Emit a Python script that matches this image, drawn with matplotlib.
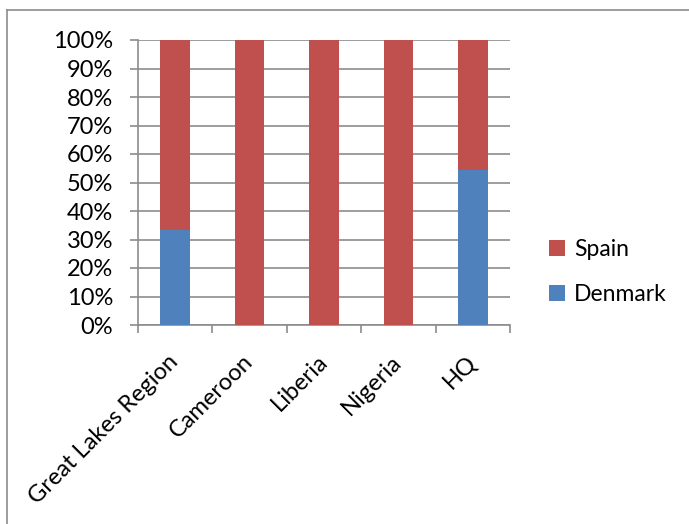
import matplotlib.pyplot as plt
from matplotlib.lines import Line2D
from matplotlib.ticker import MultipleLocator, PercentFormatter

categories = ["Great Lakes Region", "Cameroon", "Liberia", "Nigeria", "HQ"]
denmark = [33.3, 0, 0, 0, 54.5]
spain = [66.7, 100, 100, 100, 45.5]

blue = "#4F81BD"
red = "#C0504D"
grey = "#8C8C8C"

plt.rcParams["font.family"] = ["Lato", "DejaVu Sans"]

W, H = 689, 524
fig = plt.figure(figsize=(W / 100, H / 100), dpi=100)
ax = fig.add_axes([138 / W, 1 - 325 / H, (510 - 138) / W, (325 - 40) / H])

x = range(len(categories))
ax.bar(x, denmark, width=0.4, color=blue, label="Denmark", zorder=3)
ax.bar(x, spain, width=0.4, bottom=denmark, color=red, label="Spain", zorder=3)

ax.set_xlim(-0.5, len(categories) - 0.5)
ax.set_ylim(0, 100)
ax.yaxis.set_major_locator(MultipleLocator(10))
ax.yaxis.set_major_formatter(PercentFormatter(decimals=0))
ax.grid(axis="y", color=grey, linewidth=1.2, zorder=0)

ax.set_xticks(list(x))
ax.set_xticklabels(categories, rotation=45, ha="right", va="center",
                   rotation_mode="anchor", fontsize=17)
ax.tick_params(axis="x", length=0, pad=24)
ax.set_xticks([i + 0.5 for i in range(-1, len(categories))], minor=True)
ax.tick_params(axis="x", which="minor", length=6, color=grey, width=1.2)
ax.tick_params(axis="y", length=6, color=grey, width=1.2, labelsize=17, pad=12)

for s in ["top", "right"]:
    ax.spines[s].set_visible(False)
for s in ["left", "bottom"]:
    ax.spines[s].set_color(grey)
    ax.spines[s].set_linewidth(1.2)

handles, labels = ax.get_legend_handles_labels()
fig.legend(handles[::-1], labels[::-1], loc="center left",
           bbox_to_anchor=(528 / W, 1 - 272 / H), frameon=False,
           fontsize=16.5, handlelength=0.7, handleheight=0.7,
           labelspacing=1.05, handletextpad=0.4)

fig.add_artist(Line2D([7 / W, 7 / W], [0, 1 - 10 / H], color=grey, linewidth=1.2))
fig.add_artist(Line2D([7 / W, 1], [1 - 10 / H, 1 - 10 / H], color=grey, linewidth=1.2))

fig.savefig("out.png", dpi=100)
